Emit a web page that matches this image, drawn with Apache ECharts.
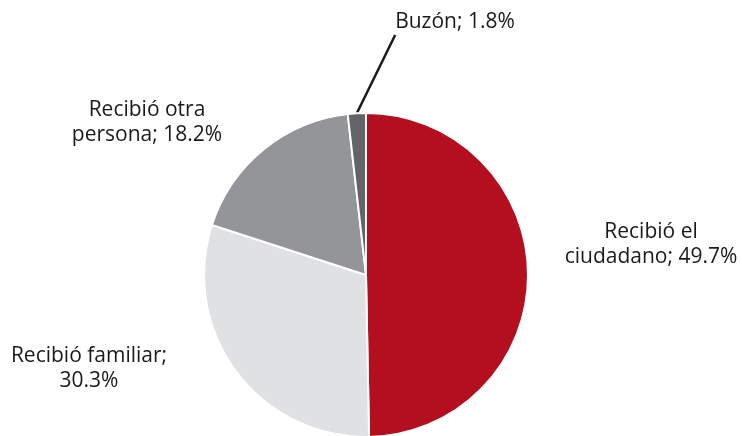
<!DOCTYPE html>
<html>
<head>
<meta charset="utf-8">
<script src="https://cdn.jsdelivr.net/npm/echarts@6/dist/echarts.min.js"></script>
<style>
  html, body { margin: 0; padding: 0; background: #fff; }
  #chart { width: 742px; height: 436px; }
</style>
</head>
<body>
<div id="chart"></div>
<script>
var categories = ['Recibió el\nciudadano', 'Recibió familiar', 'Recibió otra\npersona', 'Buzón'];
var values = [49.7, 30.3, 18.2, 1.8];
var colors = ['#B40F1E', '#E0E1E3', '#939598', '#636466'];
// label block centres (text placement only)
var labelPos = [[651, 245], [89, 369], [147, 123], [455, 35]];
var showLine = [false, false, false, true];

var myChart = echarts.init(document.getElementById('chart'));
var data = categories.map(function (c, i) {
    return {
        name: c,
        value: values[i],
        itemStyle: { color: colors[i] },
        labelLine: { show: showLine[i] }
    };
});
var option = {
    animation: false,
    series: [{
        type: 'pie',
        center: [366, 275],
        radius: [0, 162],
        startAngle: 90,
        clockwise: true,
        itemStyle: { borderColor: '#fff', borderWidth: 2 },
        label: {
            show: true,
            position: 'outside',
            fontFamily: 'Open Sans',
            fontSize: 21,
            lineHeight: 25,
            color: '#1a1a1a',
            align: 'center',
            formatter: function (p) {
                var v = p.value.toFixed(1) + '%';
                if (p.dataIndex === 0) return 'Recibió el\nciudadano; ' + v;
                if (p.dataIndex === 1) return 'Recibió familiar;\n' + v;
                if (p.dataIndex === 2) return 'Recibió otra\npersona; ' + v;
                // blank second line so the leader meets the label below the text
                return 'Buzón; ' + v + '\n ';
            }
        },
        labelLine: {
            show: true,
            length: 10,
            length2: 0,
            lineStyle: { color: '#1a1a1a', width: 2.5 }
        },
        labelLayout: function (params) {
            var p = labelPos[params.dataIndex];
            return { x: p[0], y: p[1], align: 'center', verticalAlign: 'middle' };
        },
        data: data
    }]
};
myChart.setOption(option);
</script>
</body>
</html>
